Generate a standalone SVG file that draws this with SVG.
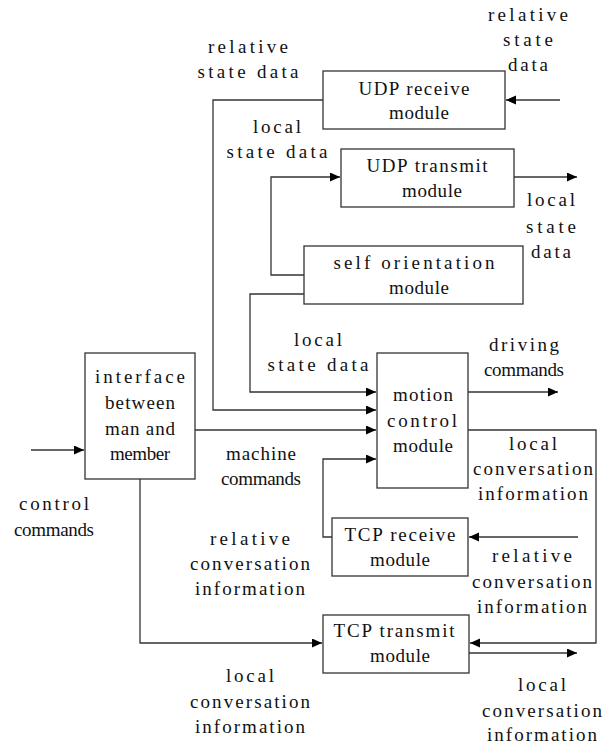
<svg xmlns="http://www.w3.org/2000/svg" width="612" height="746" viewBox="0 0 612 746">
<defs>
<marker id="arr" markerUnits="userSpaceOnUse" markerWidth="11" markerHeight="10" refX="10" refY="4.5" orient="auto">
<path d="M0,0 L10,4.5 L0,9 z" fill="#000"/>
</marker>
<style>
.box{fill:#fff;stroke:#333;stroke-width:1.3}
.c{fill:none;stroke:#333;stroke-width:1.3}
.a{marker-end:url(#arr)}
text{font-family:"Liberation Serif","DejaVu Serif",serif;font-size:19px;fill:#111;text-anchor:middle}
</style>
</defs>
<rect width="612" height="746" fill="#fff"/>
<g id="connectors">
<path class="c a" d="M560,100 L506,100"/>
<path class="c a" d="M323,100 L213,100 L213,410 L376,410"/>
<path class="c a" d="M304,275 L271,275 L271,177 L340,177"/>
<path class="c a" d="M514,177 L577,177"/>
<path class="c a" d="M304,294 L250,294 L250,392 L376,392"/>
<path class="c a" d="M195,430 L376,430"/>
<path class="c a" d="M31,450 L84,450"/>
<path class="c a" d="M140,479 L140,643 L322,643"/>
<path class="c a" d="M468,430 L596,430 L596,643 L470,643"/>
<path class="c a" d="M469,653 L577,653"/>
<path class="c a" d="M578,537 L469,537"/>
<path class="c a" d="M332,537 L323,537 L323,459 L376,459"/>
<path class="c a" d="M468,392 L558,392"/>
</g>
<g id="udp-receive">
<rect class="box" x="323" y="71" width="182" height="58"/>
<text x="414" y="95" textLength="111" lengthAdjust="spacing">UDP receive</text>
<text x="419" y="119" textLength="60" lengthAdjust="spacing">module</text>
</g>
<g id="udp-transmit">
<rect class="box" x="341" y="149" width="173" height="58"/>
<text x="427" y="172" textLength="121" lengthAdjust="spacing">UDP transmit</text>
<text x="432" y="197" textLength="60" lengthAdjust="spacing">module</text>
</g>
<g id="self-orientation">
<rect class="box" x="304" y="246" width="219" height="58"/>
<text x="414" y="269" textLength="161" lengthAdjust="spacing">self orientation</text>
<text x="419" y="294" textLength="60" lengthAdjust="spacing">module</text>
</g>
<g id="interface">
<rect class="box" x="85" y="353" width="110" height="126"/>
<text x="140" y="383" textLength="90" lengthAdjust="spacing">interface</text>
<text x="140" y="409" textLength="70" lengthAdjust="spacing">between</text>
<text x="140" y="435" textLength="70" lengthAdjust="spacing">man and</text>
<text x="140" y="460" textLength="60" lengthAdjust="spacing">member</text>
</g>
<g id="motion-control">
<rect class="box" x="377" y="353" width="91" height="135"/>
<text x="423" y="401" textLength="60" lengthAdjust="spacing">motion</text>
<text x="422" y="427" textLength="70" lengthAdjust="spacing">control</text>
<text x="423" y="452" textLength="60" lengthAdjust="spacing">module</text>
</g>
<g id="tcp-receive">
<rect class="box" x="332" y="518" width="136" height="58"/>
<text x="400" y="541" textLength="111" lengthAdjust="spacing">TCP receive</text>
<text x="400" y="566" textLength="60" lengthAdjust="spacing">module</text>
</g>
<g id="tcp-transmit">
<rect class="box" x="323" y="615" width="146" height="58"/>
<text x="394" y="637" textLength="121" lengthAdjust="spacing">TCP transmit</text>
<text x="400" y="662" textLength="60" lengthAdjust="spacing">module</text>
</g>
<g id="labels">
<text x="248" y="53" textLength="80" lengthAdjust="spacing">relative</text>
<text x="248" y="78" textLength="101" lengthAdjust="spacing">state data</text>
<text x="528" y="21" textLength="80" lengthAdjust="spacing">relative</text>
<text x="528" y="46" textLength="50" lengthAdjust="spacing">state</text>
<text x="528" y="71" textLength="40" lengthAdjust="spacing">data</text>
<text x="277" y="133" textLength="48" lengthAdjust="spacing">local</text>
<text x="277" y="158" textLength="101" lengthAdjust="spacing">state data</text>
<text x="551" y="206" textLength="48" lengthAdjust="spacing">local</text>
<text x="551" y="233" textLength="50" lengthAdjust="spacing">state</text>
<text x="551" y="258" textLength="40" lengthAdjust="spacing">data</text>
<text x="318" y="346" textLength="48" lengthAdjust="spacing">local</text>
<text x="318" y="371" textLength="101" lengthAdjust="spacing">state data</text>
<text x="524" y="351" textLength="70" lengthAdjust="spacing">driving</text>
<text x="524" y="376" textLength="80" lengthAdjust="spacing">commands</text>
<text x="54" y="510" textLength="70" lengthAdjust="spacing">control</text>
<text x="54" y="536" textLength="80" lengthAdjust="spacing">commands</text>
<text x="261" y="460" textLength="70" lengthAdjust="spacing">machine</text>
<text x="261" y="485" textLength="80" lengthAdjust="spacing">commands</text>
<text x="533" y="450" textLength="48" lengthAdjust="spacing">local</text>
<text x="533" y="475" textLength="120" lengthAdjust="spacing">conversation</text>
<text x="533" y="500" textLength="110" lengthAdjust="spacing">information</text>
<text x="250" y="545" textLength="80" lengthAdjust="spacing">relative</text>
<text x="250" y="570" textLength="120" lengthAdjust="spacing">conversation</text>
<text x="250" y="595" textLength="110" lengthAdjust="spacing">information</text>
<text x="532" y="562" textLength="80" lengthAdjust="spacing">relative</text>
<text x="532" y="588" textLength="120" lengthAdjust="spacing">conversation</text>
<text x="532" y="613" textLength="110" lengthAdjust="spacing">information</text>
<text x="250" y="682" textLength="48" lengthAdjust="spacing">local</text>
<text x="250" y="708" textLength="120" lengthAdjust="spacing">conversation</text>
<text x="250" y="733" textLength="110" lengthAdjust="spacing">information</text>
<text x="542" y="691" textLength="48" lengthAdjust="spacing">local</text>
<text x="542" y="717" textLength="120" lengthAdjust="spacing">conversation</text>
<text x="542" y="741" textLength="110" lengthAdjust="spacing">information</text>
</g>
</svg>
